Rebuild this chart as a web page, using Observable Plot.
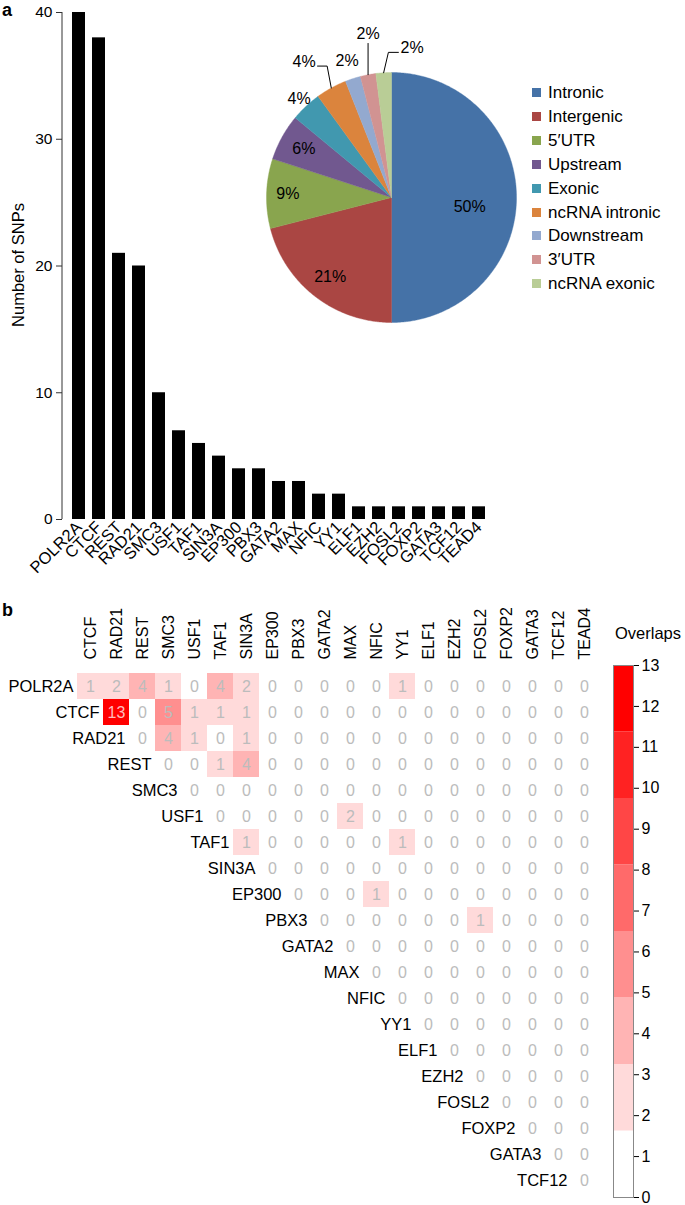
<!DOCTYPE html>
<html><head><meta charset="utf-8">
<script src="https://cdn.jsdelivr.net/npm/d3@7"></script>
<script src="https://cdn.jsdelivr.net/npm/@observablehq/plot@0.6"></script>
<style>
body{margin:0;background:#fff;font-family:"Liberation Sans",Arial,Helvetica,sans-serif;color:#000;}
#root{position:relative;width:685px;height:1205px;overflow:hidden;background:#fff;}
.abs{position:absolute;}
.panel{font-weight:bold;font-size:18px;line-height:20px;}
.leg{position:absolute;font-size:17px;line-height:18px;white-space:nowrap;}
.sw{display:inline-block;width:9px;height:9px;margin-right:7px;vertical-align:1px;}
.ylab{position:absolute;font-size:16.5px;white-space:nowrap;transform:translate(-50%,-50%) rotate(-90deg);}
</style></head><body><div id="root"></div>
<script>
// ---------- data ----------
const tfNames = ["POLR2A","CTCF","REST","RAD21","SMC3","USF1","TAF1","SIN3A","EP300","PBX3","GATA2","MAX","NFIC","YY1","ELF1","EZH2","FOSL2","FOXP2","GATA3","TCF12","TEAD4"];
const snpCounts = [40,38,21,20,10,7,6,5,4,4,3,3,2,2,1,1,1,1,1,1,1];
const snpTicks = [0,10,20,30,40];

const regionNames = ["Intronic","Intergenic","5\u2032UTR","Upstream","Exonic","ncRNA intronic","Downstream","3\u2032UTR","ncRNA exonic"];
const regionPercents = [50,21,9,6,4,4,2,2,2];
const regionColors = ["#4572A7","#AA4643","#89A54E","#71588F","#4198AF","#DB843D","#93A9CF","#D19392","#B9CD96"];

const heatCols = ["CTCF","RAD21","REST","SMC3","USF1","TAF1","SIN3A","EP300","PBX3","GATA2","MAX","NFIC","YY1","ELF1","EZH2","FOSL2","FOXP2","GATA3","TCF12","TEAD4"];
const heatRows = ["POLR2A","CTCF","RAD21","REST","SMC3","USF1","TAF1","SIN3A","EP300","PBX3","GATA2","MAX","NFIC","YY1","ELF1","EZH2","FOSL2","FOXP2","GATA3","TCF12"];
// row i holds the overlaps with columns i .. end
const overlapRows = [
  [1,2,4,1,0,4,2,0,0,0,0,0,1,0,0,0,0,0,0,0],
  [13,0,5,1,1,1,0,0,0,0,0,0,0,0,0,0,0,0,0],
  [0,4,1,0,1,0,0,0,0,0,0,0,0,0,0,0,0,0],
  [0,0,1,4,0,0,0,0,0,0,0,0,0,0,0,0,0],
  [0,0,0,0,0,0,0,0,0,0,0,0,0,0,0,0],
  [0,0,0,0,0,2,0,0,0,0,0,0,0,0,0],
  [1,0,0,0,0,0,1,0,0,0,0,0,0,0],
  [0,0,0,0,0,0,0,0,0,0,0,0,0],
  [0,0,0,1,0,0,0,0,0,0,0,0],
  [0,0,0,0,0,0,1,0,0,0,0],
  [0,0,0,0,0,0,0,0,0,0],
  [0,0,0,0,0,0,0,0,0],
  [0,0,0,0,0,0,0,0],
  [0,0,0,0,0,0,0],
  [0,0,0,0,0,0],
  [0,0,0,0,0],
  [0,0,0,0],
  [0,0,0],
  [0,0],
  [0]
];
const overlapTicks = [0,1,2,3,4,5,6,7,8,9,10,11,12,13];
const overlapMax = 13;
const overlapBinColors = ["#ffffff","#ffdada","#ffb4b4","#ff8f8f","#ff6a6a","#ff4646","#ff2222","#ff0000"];
const cellThresholds = [1,3.25,4.875,6.5,8.125,9.75,11.375];

// ---------- layout helpers ----------
const root = document.getElementById("root");
function place(node, left, top){ const d=document.createElement("div"); d.className="abs"; d.style.left=left+"px"; d.style.top=top+"px"; d.appendChild(node); root.appendChild(d); return d; }
const FONT = '"Liberation Sans",Arial,Helvetica,sans-serif';

// ---------- panel a : bar chart ----------
const bars = tfNames.map((tf,i)=>({tf, n: snpCounts[i]}));
const axisLine = [{tf: tfNames[0], y1: snpTicks[0], y2: snpTicks[snpTicks.length-1]}];
const barPlot = Plot.plot({
  width: 685, height: 590,
  marginLeft: 62, marginTop: 12, marginBottom: 71, marginRight: 10,
  style: {fontFamily: FONT, fontSize: "16px", background: "transparent", overflow: "visible"},
  x: {domain: tfNames, range: [69, 489], paddingInner: 0.33, paddingOuter: 0.165, axis: null},
  y: {domain: [0, 40], axis: null},
  marks: [
    Plot.barY(bars, {x: "tf", y: "n", fill: "#000"}),
    Plot.ruleX(axisLine, {x: "tf", y1: "y1", y2: "y2", dx: -17, stroke: "#333", strokeWidth: 1}),
    Plot.axisY({ticks: snpTicks, tickSize: 6, tickPadding: 4, stroke: "#333", fontSize: 15.5, label: null}),
    Plot.axisX({tickRotate: -45, tickSize: 0, tickPadding: 5, fontSize: 16.5, label: null})
  ]
});
place(barPlot, 0, 0);
const yl = document.createElement("div"); yl.className="ylab"; yl.style.left="18px"; yl.style.top="265px"; yl.textContent="Number of SNPs"; root.appendChild(yl);

// ---------- pie ----------
const total = d3.sum(regionPercents);
let acc = 0;
const slices = regionNames.map((name,i)=>{
  const a0 = acc/total*2*Math.PI; acc += regionPercents[i]; const a1 = acc/total*2*Math.PI;
  return {name, a0, a1, mid:(a0+a1)/2, pct: regionPercents[i]};
});
const piePts = slices.flatMap(s=>{
  const n = Math.max(2, Math.ceil((s.a1-s.a0)/(Math.PI/360)));
  const pts=[{name:s.name,x:0,y:0}];
  for(let k=0;k<=n;k++){const a=s.a0+(s.a1-s.a0)*k/n; pts.push({name:s.name,x:Math.sin(a),y:Math.cos(a)});}
  pts.push({name:s.name,x:0,y:0});
  return pts;
});
// label layout (radius factor / angle shift in degrees, or leader offsets in radius units)
const pieLabelLayout = [
  {r:0.63, da:7}, {r:0.8, da:0}, {r:0.83, da:0}, {r:0.8, da:0}, {r:1.08, da:0},
  {leader:[[-0.033,0.175],[-0.11,0.175]], text:[-0.125,0.21], anchor:"end"},
  {r:1.15, da:0},
  {leader:[[0,0.25]], text:[0,0.33], anchor:"middle"},
  {leader:[[0.038,0.163],[0.118,0.163]], text:[0.135,0.2], anchor:"start"}
];
const pieLabels = [], leaderPts = [];
slices.forEach((s,i)=>{
  const L = pieLabelLayout[i];
  if (L.leader){
    const ex=Math.sin(s.mid), ey=Math.cos(s.mid);
    leaderPts.push({k:i,x:ex,y:ey});
    L.leader.forEach(p=>leaderPts.push({k:i,x:ex+p[0],y:ey+p[1]}));
    pieLabels.push({x:ex+L.text[0], y:ey+L.text[1], t:s.pct+"%", anchor:L.anchor});
  } else {
    const a = s.mid + L.da*Math.PI/180;
    pieLabels.push({x:L.r*Math.sin(a), y:L.r*Math.cos(a), t:s.pct+"%", anchor:"middle"});
  }
});
const R = 125;
const pieFont = 16;
const piePlot = Plot.plot({
  width: 2*R, height: 2*R, margin: 0,
  style: {fontFamily: FONT, fontSize: "16px", background: "transparent", overflow: "visible"},
  x: {domain: [-1,1], axis: null}, y: {domain: [-1,1], axis: null},
  color: {domain: regionNames, range: regionColors},
  marks: [
    Plot.line(piePts, {x:"x", y:"y", z:"name", fill:"name", stroke:"name", strokeWidth:0.4}),
    Plot.line(leaderPts, {x:"x", y:"y", z:"k", stroke:"#000", strokeWidth:1}),
    Plot.text(pieLabels.filter(d=>d.anchor==="middle"), {x:"x", y:"y", text:"t", fontSize:pieFont, fill:"#000", textAnchor:"middle"}),
    Plot.text(pieLabels.filter(d=>d.anchor==="start"), {x:"x", y:"y", text:"t", fontSize:pieFont, fill:"#000", textAnchor:"start"}),
    Plot.text(pieLabels.filter(d=>d.anchor==="end"), {x:"x", y:"y", text:"t", fontSize:pieFont, fill:"#000", textAnchor:"end"})
  ]
});
place(piePlot, 391-R, 197-R);

// pie legend
regionNames.forEach((name,i)=>{
  const d=document.createElement("div"); d.className="leg";
  d.style.left="532px"; d.style.top=(84+i*23.9)+"px";
  d.innerHTML='<span class="sw" style="background:'+regionColors[i]+'"></span>'+name;
  root.appendChild(d);
});

// ---------- panel b : heatmap ----------
const cells = overlapRows.flatMap((row,i)=>row.map((v,k)=>({r:heatRows[i], c:heatCols[i+k], v})));
const rowLabels = heatRows.map((r,i)=>({r, c:heatCols[i]}));
const heatPlot = Plot.plot({
  width: 685, height: 615,
  marginTop: 77, marginBottom: 6, marginLeft: 71, marginRight: 82,
  style: {fontFamily: FONT, fontSize: "16px", background: "transparent", overflow: "visible"},
  x: {domain: heatCols, padding: 0, axis: null},
  y: {domain: heatRows, padding: 0, axis: null},
  color: {type: "threshold", domain: cellThresholds, range: overlapBinColors},
  marks: [
    Plot.cell(cells, {x:"c", y:"r", fill:"v"}),
    Plot.text(cells, {x:"c", y:"r", text:d=>String(d.v), fill:d=>d.v>=10?"#ffbcbc":"#bcbcbc", fontSize:16}),
    Plot.text(rowLabels, {x:"c", y:"r", text:"r", dx:-17, textAnchor:"end", fontSize:16.5, fill:"#000"}),
    Plot.axisX({anchor:"top", tickRotate:-90, tickSize:0, tickPadding:8, fontSize:16, label:null})
  ]
});
place(heatPlot, 0, 590);

// colour key
const bins = overlapBinColors.map((col,k)=>({y1:k*overlapMax/overlapBinColors.length, y2:(k+1)*overlapMax/overlapBinColors.length, col}));
const keyPlot = Plot.plot({
  width: 72, height: 565, marginTop: 27, marginBottom: 6, marginLeft: 0, marginRight: 52,
  style: {fontFamily: FONT, fontSize: "16px", background: "transparent", overflow: "visible"},
  y: {domain: [0, overlapMax], axis: null},
  marks: [
    Plot.rect(bins, {y1:"y1", y2:"y2", fill:"col"}),
    Plot.frame({stroke:"#888"}),
    Plot.axisY({anchor:"right", ticks: overlapTicks, tickSize:5, tickPadding:3, fontSize:16, label:null})
  ]
});
place(keyPlot, 613, 638);

// text labels
const ov = document.createElement("div"); ov.className="leg"; ov.style.left="615px"; ov.style.top="624px"; ov.style.fontSize="16.5px"; ov.textContent="Overlaps"; root.appendChild(ov);
const pa = document.createElement("div"); pa.className="abs panel"; pa.style.left="2px"; pa.style.top="0px"; pa.textContent="a"; root.appendChild(pa);
const pb = document.createElement("div"); pb.className="abs panel"; pb.style.left="2px"; pb.style.top="600px"; pb.textContent="b"; root.appendChild(pb);
</script></body></html>
